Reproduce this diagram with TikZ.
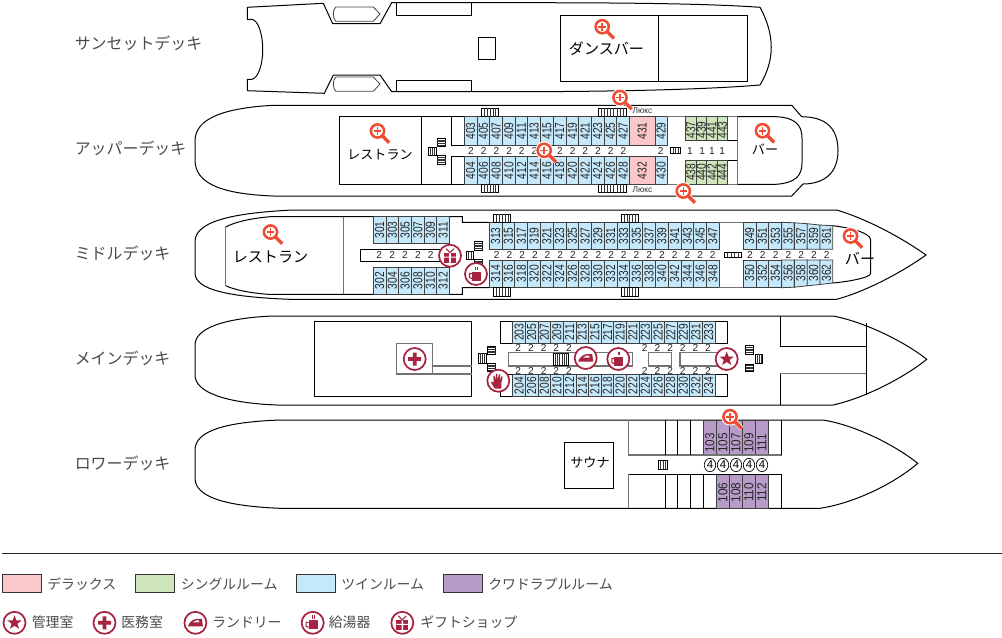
\documentclass[tikz,border=0pt]{standalone}
\usepackage{fontspec}
\usepackage{graphicx}
\usetikzlibrary{shapes.geometric}
\setmainfont{Liberation Sans}
\newfontfamily\jpfont{Noto Sans CJK JP}
\definecolor{pinkroom}{HTML}{FBC8C9}
\definecolor{greenroom}{HTML}{CFE6BD}
\definecolor{blueroom}{HTML}{C5E8FB}
\definecolor{purproom}{HTML}{B89CC8}
\definecolor{iconred}{HTML}{A6243F}
\definecolor{lensred}{HTML}{EE4C35}
\definecolor{greytext}{HTML}{4A4A4A}
\newcommand{\rn}[2][0.78]{\scalebox{#1}[1]{#2}}
\tikzset{
  wall/.style={draw=black,line width=0.75pt},
  softwall/.style={draw=black!55,line width=0.85pt},
  room/.style={draw=black!75,line width=0.6pt},
  roomnum/.style={font=\fontsize{9.8}{10}\selectfont,rotate=90,inner sep=0pt,text=black!85},
  bednum/.style={font=\fontsize{7.6}{8}\selectfont,inner sep=0pt,text=black!85},
  decklabel/.style={font=\jpfont\fontsize{11.95}{12}\selectfont,anchor=west,inner sep=0pt,text=greytext},
  placelabel/.style={font=\jpfont\fontsize{9.8}{11}\selectfont,inner sep=0pt},
  bigplacelabel/.style={font=\jpfont\fontsize{11.3}{12}\selectfont,inner sep=0pt},
  keylabel/.style={font=\jpfont\fontsize{10.4}{11}\selectfont,anchor=west,inner sep=0pt,text=greytext},
  keybox/.style={draw=black!80,line width=0.75pt},
  ring/.style={draw=iconred,fill=white,line width=1.3pt},
  pics/lens/.style={code={
    \draw[white,line width=3.4pt] (-1.5,-1.5) circle (6.6) (3.2,3.2) -- (10.2,10.2);
    \draw[lensred,line width=1.9pt,fill=white] (-1.5,-1.5) circle (6.6);
    \draw[lensred,line width=2.5pt] (3.6,3.6) -- (10.2,10.2);
    \draw[lensred,line width=1.2pt] (-5.3,-1.5) -- (2.3,-1.5) (-1.5,-5.3) -- (-1.5,2.3);
  }},
  pics/staricon/.style={code={
    \draw[ring] (0,0) circle (11);
    \fill[iconred] (0,-7.5) -- (1.9,-2.4) -- (7.2,-2.4) -- (3,0.9) -- (4.5,6) -- (0,3) -- (-4.5,6) -- (-3,0.9) -- (-7.2,-2.4) -- (-1.9,-2.4) -- cycle;
  }},
  pics/crossicon/.style={code={
    \draw[ring] (0,0) circle (11);
    \fill[iconred] (-1.9,-6.5) rectangle (1.9,6.5) (-6.5,-1.9) rectangle (6.5,1.9);
  }},
  pics/ironicon/.style={code={
    \draw[ring] (0,0) circle (11);
    \fill[iconred] (-7.5,3.5) .. controls (-6,-1) and (-2,-4) .. (2,-4) -- (6.5,-4) -- (7.5,3.5) -- cycle;
    \fill[white] (-2.5,-0.5) -- (1,-2.5) -- (3.5,-2.5) -- (3.8,-0.5) -- cycle;
  }},
  pics/cupicon/.style={code={
    \draw[ring] (0,0) circle (11);
    \fill[iconred] (-4,-2.5) rectangle (5,6.5);
    \draw[iconred,line width=0.8pt] (-4,-0.5) -- (-6.5,-0.5) -- (-6.5,3.5) -- (-4,4.5);
    \draw[iconred,line width=0.7pt] (-0.3,-7.5) -- (-0.3,-4) (1.3,-7.5) -- (1.3,-4);
  }},
  pics/gifticon/.style={code={
    \draw[ring] (0,0) circle (11);
    \fill[iconred] (-6,-2.5) rectangle (6,7);
    \fill[white] (-0.8,-2.5) rectangle (0.8,7) (-6,1) rectangle (6,2);
    \draw[iconred,line width=0.8pt] (0,-3) -- (-4,-7) (0,-3) -- (4,-7);
  }},
  pics/handicon/.style={code={
    \draw[ring] (0,0) circle (11);
    \fill[iconred] (-3.5,8) .. controls (-5,5) and (-8,2) .. (-7,1) .. controls (-6,0.5) and (-5,2) .. (-4.5,2) -- (-5,-4.5) -- (-3.8,-5) -- (-2.8,-0.5) -- (-2.3,-7) -- (-1,-7) -- (-0.7,-0.5) -- (0.6,-6.5) -- (2,-6) -- (1.2,-0.5) -- (3.4,-4.5) -- (4.4,-4) -- (3,2) -- (3,8) -- cycle;
  }}
}
\newcommand{\stairsv}[5]{% treads run upright
  \draw[line width=0.4pt,fill=white] (#1,#2) rectangle (#3,#4);
  \foreach \t in {1,...,#5} \draw[line width=0.4pt,black!80] ({#1+(#3-#1)*\t/(#5+1)},#2) -- ({#1+(#3-#1)*\t/(#5+1)},#4);
}
\newcommand{\stairsh}[5]{% treads run across
  \draw[line width=0.4pt,fill=white] (#1,#2) rectangle (#3,#4);
  \foreach \t in {1,...,#5} \draw[line width=0.4pt,black!80] (#1,{#2+(#4-#2)*\t/(#5+1)}) -- (#3,{#2+(#4-#2)*\t/(#5+1)});
}
\begin{document}
\begin{tikzpicture}[x=0.75pt,y=-0.75pt]
\useasboundingbox (0,0) rectangle (1002,637);
% sunset deck
\draw[wall] (247.3,7.3) -- (323.3,3.3) -- (332.7,23.7) -- (380,23.7) -- (391.7,2.7) -- (510,2.7) .. controls (600,2.7) and (700,3) .. (760,7.3) .. controls (775,35) and (775,60) .. (760,85) .. controls (700,90) and (600,91.7) .. (510,91.7) -- (391.7,91.7) -- (380,75) -- (333.3,75) -- (324.3,93.3) -- (247.3,90.7) -- (247.3,79.3) -- (252,79.3) .. controls (258,78) and (262.7,65) .. (262.7,50) .. controls (262.7,33) and (258,20.5) .. (252,19.3) -- (247.3,19.3) -- cycle;
\draw[room] (335.7,7) -- (373.3,7) -- (380,14) -- (373.3,21.3) -- (335.7,21.3) .. controls (332.5,18) and (332.5,10) .. (335.7,7);
\draw[room] (335.7,77) -- (373.3,77) -- (380,84) -- (373.3,91.3) -- (335.7,91.3) .. controls (332.5,88) and (332.5,80) .. (335.7,77);
\draw[wall] (396.3,2.7) rectangle (471.3,15.3);
\draw[wall] (396.3,80.3) rectangle (471.3,91.7);
\draw[wall] (478,37.3) rectangle (495.3,59.3);
\draw[wall] (560.7,15.3) rectangle (747.3,81.3);
\draw[wall] (658,15.3) -- (658,81.3);
\node[bigplacelabel] (dancebar) at (606.5,48.3) {ダンスバー};
\pic at (603.7,28.2) {lens};
% upper deck
\draw[wall] (273,105.3) -- (791.7,105.3) -- (801.7,116.7) .. controls (812,117) and (838,118) .. (838,150.5) .. controls (838,180) and (815,184) .. (803,184) -- (791.7,196) -- (273,196) .. controls (225,194) and (195,185) .. (195,160) -- (195,141) .. controls (195,118) and (225,108) .. (273,105.3);
\draw[wall] (339.3,116.7) rectangle (421.7,184.3);
\draw[wall] (421.7,116.7) -- (667.3,116.7) (421.7,184.3) -- (667.3,184.3);
\draw[wall] (451.7,116.7) rectangle (464.3,145.3);
\draw[wall] (451.7,156.7) rectangle (464.3,184.3);
\foreach \n [count=\i from 0] in {403,405,...,427} {
  \draw[room,fill=blueroom] ({464.3+12.7*\i},116.7) rectangle +(12.7,28.3);
  \node[roomnum] (c\n) at ({470.65+12.7*\i},131) {\rn{\n}};
}
\foreach \n [count=\i from 0] in {404,406,...,428} {
  \draw[room,fill=blueroom] ({464.3+12.7*\i},156.7) rectangle +(12.7,27.6);
  \node[roomnum] (c\n) at ({470.65+12.7*\i},170.5) {\rn{\n}};
  \node[bednum] (b\n) at ({471+12.7*\i},150.7) {2};
}
\draw[room,fill=pinkroom] (629.3,116.7) rectangle (655,145);
\draw[room,fill=pinkroom] (629.3,156.7) rectangle (655,184.3);
\draw[room,fill=blueroom] (655,116.7) rectangle (667.3,145);
\draw[room,fill=blueroom] (655,156.7) rectangle (667.3,184.3);
\node[roomnum] (c431) at (642.2,131) {\rn{431}};
\node[roomnum] (c432) at (642.2,170.5) {\rn{432}};
\node[roomnum] (c429) at (661.2,131) {\rn{429}};
\node[roomnum] (c430) at (661.2,170.5) {\rn{430}};
\node[bednum] (b430) at (660.7,150.7) {2};
\draw[softwall] (667.3,116.7) -- (737.7,116.7) (667.3,184.3) -- (737.7,184.3);
\foreach \n [count=\i from 0] in {437,439,441,443} {
  \draw[room,fill=greenroom] ({685.7+10.5*\i},116.7) rectangle +(10.5,23.3);
  \node[roomnum] (c\n) at ({690.95+10.5*\i},130) {\rn{\n}};
}
\foreach \n [count=\i from 0] in {438,440,442,444} {
  \draw[room,fill=greenroom] ({685.7+10.5*\i},160.7) rectangle +(10.5,23.6);
  \node[roomnum] (c\n) at ({690.95+10.5*\i},172.3) {\rn{\n}};
}
\foreach \x [count=\i] in {690,702.3,712,722.3} \node[bednum] (s\i) at (\x,150.7) {1};
\draw[wall] (727.7,140) -- (737.7,140) (727.7,160.7) -- (737.7,160.7);
\draw[softwall] (737.7,116.7) -- (737.7,184.3);
\draw[wall] (737.7,116.7) -- (776,116.7) .. controls (795,117.5) and (802,125) .. (802,138) -- (802,163) .. controls (802,176) and (795,183) .. (776,184.3) -- (737.7,184.3);
\stairsv{481.7}{108.3}{498.3}{116.7}{5}
\stairsv{481.7}{184.3}{498.3}{192.7}{5}
\stairsv{598.3}{108.3}{626}{116.7}{8}
\stairsv{598.3}{184.3}{626}{192.7}{8}
\stairsv{428.3}{147.7}{436}{155.7}{3}
\stairsh{437.3}{138.3}{445.7}{146.7}{4}
\stairsh{437.3}{155.7}{445.7}{164}{4}
\stairsv{670.7}{147.7}{680.7}{153.3}{3}
\node[inner sep=0pt,font=\fontsize{6.3}{7}\selectfont,text=black!80] (luxtop) at (642.5,111) {Люкс};
\node[inner sep=0pt,font=\fontsize{6.3}{7}\selectfont,text=black!80] (luxbot) at (642.5,190) {Люкс};
\node[placelabel] (restupper) at (380,154.3) {レストラン};
\node[placelabel] (barupper) at (765,149) {バー};
\pic at (379,132.5) {lens};
\pic at (764,132.2) {lens};
\pic at (621.5,99) {lens};
\pic at (545.7,151.8) {lens};
\pic at (684.8,192.5) {lens};
% middle deck
\draw[wall] (293,210) -- (836.7,210) .. controls (870,220) and (905,240) .. (926,255) .. controls (905,270) and (870,290) .. (836.7,299.3) -- (290,299.3) .. controls (230,297) and (195,290) .. (195,273) -- (195,241.7) .. controls (195,222) and (230,213) .. (293,210);
\draw[wall] (225.7,227) .. controls (235,222) and (250,218.5) .. (270,216.7) -- (462.3,216.7) -- (462.3,222.3) -- (489.3,222.3);
\draw[wall] (225.7,285.7) .. controls (235,290) and (250,293) .. (268.3,294.3) -- (462.3,294.3) -- (462.3,287.7) -- (489.3,287.7);
\draw[softwall] (225.7,227) -- (225.7,285.7);
\draw[softwall] (343.7,216.7) -- (343.7,294.3);
\draw[wall] (445,249.3) -- (360,249.3) -- (360,261) -- (445,261);
\foreach \n [count=\i from 0] in {301,303,...,311} {
  \draw[room,fill=blueroom] ({373.3+12.7*\i},216.7) rectangle +(12.7,26.6);
  \node[roomnum] (c\n) at ({379.65+12.7*\i},230) {\rn{\n}};
}
\foreach \n [count=\i from 0] in {302,304,...,312} {
  \draw[room,fill=blueroom] ({373.3+12.7*\i},267.3) rectangle +(12.7,27);
  \node[roomnum] (c\n) at ({379.65+12.7*\i},280.8) {\rn{\n}};
}
\foreach \i in {0,...,4} \node[bednum] (m\i) at ({379.3+12.85*\i},255) {2};
\foreach \n [count=\i from 0] in {313,315,...,347} {
  \draw[room,fill=blueroom] ({489.3+12.78*\i},222.3) rectangle +(12.78,27);
  \node[roomnum] (c\n) at ({495.7+12.78*\i},236) {\rn{\n}};
}
\foreach \n [count=\i from 0] in {314,316,...,348} {
  \draw[room,fill=blueroom] ({489.3+12.78*\i},260) rectangle +(12.78,27.7);
  \node[roomnum] (c\n) at ({495.7+12.78*\i},273.8) {\rn{\n}};
}
\foreach \i in {0,...,17} \node[bednum] (p\i) at ({496.7+12.71*\i},254.6) {2};
\draw[softwall] (719.3,222.3) -- (743.3,222.3) (719.3,287.7) -- (743.3,287.7);
\foreach \n/\ya/\yb [count=\i from 0] in {349/222.3/222.3,351/222.3/222.3,353/222.3/222.3,355/222.3/222.8,357/222.8/223.7,359/223.7/225,361/225/225.7} {
  \draw[room,fill=blueroom] ({743.3+12.77*\i},\ya) -- ({743.3+12.77*(\i+1)},\yb) -- ({743.3+12.77*(\i+1)},249.3) -- ({743.3+12.77*\i},249.3) -- cycle;
  \node[roomnum] (c\n) at ({749.7+12.77*\i},236) {\rn{\n}};
}
\foreach \n/\ya/\yb [count=\i from 0] in {350/287.7/287.7,352/287.7/287.7,354/287.7/287.7,356/287.7/287.2,358/287.2/285.8,360/285.8/284.5,362/284.5/283} {
  \draw[room,fill=blueroom] ({743.3+12.77*\i},\ya) -- ({743.3+12.77*(\i+1)},\yb) -- ({743.3+12.77*(\i+1)},260) -- ({743.3+12.77*\i},260) -- cycle;
  \node[roomnum] (c\n) at ({749.7+12.77*\i},273) {\rn{\n}};
}
\foreach \i in {0,...,6} \node[bednum] (q\i) at ({750+12.78*\i},254.6) {2};
\draw[wall] (832.7,225.7) .. controls (845,227) and (870.7,232) .. (870.7,240) -- (870.7,273.3) .. controls (870.7,278) and (845,282) .. (832.7,283);
\stairsv{493.3}{214}{510.7}{222.3}{5}
\stairsv{493.3}{287.7}{510.7}{296.3}{5}
\stairsv{621}{214}{638.3}{222.3}{5}
\stairsv{621}{287.7}{638.3}{296.3}{5}
\stairsv{466}{251.7}{473.3}{259}{2}
\stairsh{474.3}{241.7}{482.7}{250}{4}
\stairsh{474.3}{259.3}{482.7}{267.7}{4}
\stairsv{724}{252.7}{741.7}{257.3}{4}
\node[bigplacelabel] (restmiddle) at (270.5,256.5) {レストラン};
\node[bigplacelabel] (barmiddle) at (860,258.3) {バー};
\pic at (272,233.5) {lens};
\pic at (852,237.5) {lens};
\pic at (450,255.7) {gifticon};
\pic at (476,274) {cupicon};
% main deck
\draw[wall] (273,316) -- (833,316) .. controls (865,322) and (905,342) .. (926.7,359.3) .. controls (905,377) and (865,398) .. (833,405) -- (277,405) .. controls (225,403) and (195,392) .. (195,375) -- (195,345) .. controls (195,328) and (225,318) .. (273,316);
\draw[wall] (314.3,321.7) rectangle (471.7,396);
\draw[softwall] (396.7,343.3) rectangle (432.7,374);
\draw[softwall] (432.7,366) -- (471.7,366) (432.7,374) -- (471.7,374);
\draw[wall] (500,321.7) rectangle (727.7,343.3);
\draw[wall] (500,374) rectangle (727.7,396);
\foreach \n [count=\i from 0] in {203,205,...,233} {
  \draw[room,fill=blueroom] ({512.7+12.64*\i},321.7) rectangle +(12.64,21.6);
  \node[roomnum] (c\n) at ({519+12.64*\i},332.3) {\rn{\n}};
}
\foreach \n [count=\i from 0] in {204,206,...,234} {
  \draw[room,fill=blueroom] ({512.7+12.64*\i},374) rectangle +(12.64,22);
  \node[roomnum] (c\n) at ({519+12.64*\i},385.5) {\rn{\n}};
}
\foreach \i in {0,...,4,10,11,...,15} {
  \node[bednum] (u\i) at ({518.3+12.65*\i},348.3) {2};
  \node[bednum] (v\i) at ({518.3+12.65*\i},370.7) {2};
}
\draw[softwall] (508.3,352.7) rectangle (632.3,366);
\draw[softwall] (648.3,352.7) rectangle (671.7,366);
\draw[softwall] (680,352.7) rectangle (718,366);
\stairsv{553.3}{353.3}{568.3}{365}{6}
\stairsv{478.3}{353.3}{486}{363.3}{3}
\stairsh{487.7}{346}{495.7}{354}{4}
\stairsh{487.7}{363.3}{495.7}{371.7}{4}
\stairsh{745.7}{345.7}{753.3}{354}{4}
\stairsh{745.7}{364}{753.3}{371.7}{4}
\stairsv{755}{354.3}{762.7}{363.3}{3}
\draw[wall] (780.3,316) -- (780.3,346) -- (865.7,346);
\draw[wall] (780.3,405) -- (780.3,373.3);
\draw[softwall] (780.3,373.3) -- (866.7,373.3);
\draw[wall] (866.7,323.3) -- (866.7,395);
\pic at (414.7,359) {crossicon};
\pic at (585.7,358) {ironicon};
\pic at (618.3,359) {cupicon};
\pic at (726.7,359) {staricon};
\pic at (498.3,380.7) {handicon};
% lower deck
\draw[wall] (280,420) -- (823,420) .. controls (855,425) and (895,445) .. (917.7,463.3) .. controls (895,483) and (855,503) .. (820,508.3) -- (280,508.3) .. controls (225,506) and (195,497) .. (195,478) -- (195,450) .. controls (195,431) and (225,422) .. (280,420);
\draw[wall] (564.3,442.3) rectangle (613.3,488.3);
\node[placelabel] (sauna) at (590,462.3) {サウナ};
\foreach \x in {703.3,716.3,729.3,742.3,755.3} \draw[room,fill=purproom] (\x,420) rectangle +(13,35);
\foreach \x in {716.3,729.3,742.3,755.3} \draw[room,fill=purproom] (\x,474.3) rectangle +(13,34);
\foreach \n [count=\i from 0] in {103,105,107,109,111} \node[roomnum] (c\n) at ({709.8+13*\i},443) {\rn[0.9]{\n}};
\foreach \n [count=\i from 0] in {106,108,110,112} \node[roomnum] (c\n) at ({722.8+13*\i},492.5) {\rn[0.9]{\n}};
\draw[softwall] (628.7,420) -- (628.7,455) -- (781.7,455);
\draw[softwall] (628.7,508.3) -- (628.7,474.3);
\draw[wall] (628.7,474.3) -- (781.7,474.3);
\foreach \x in {665,677.7,690.3} \draw[wall] (\x,420) -- (\x,455) (\x,474.3) -- (\x,508.3);
\draw[wall] (703.3,474.3) -- (703.3,508.3);
\draw[wall] (781.7,420) -- (781.7,455) (781.7,474.3) -- (781.7,508.3);
\stairsv{658.3}{460.7}{667.7}{469}{3}
\foreach \x [count=\i] in {710,723,736,749,762}
  \node[draw,ellipse,line width=0.5pt,inner sep=0pt,minimum width=8.6pt,minimum height=10pt,font=\fontsize{8.6}{9}\selectfont] (four\i) at (\x,465) {4};
\pic at (731.5,418.2) {lens};
% deck names
\node[decklabel] (dsunset) at (74.5,43) {サンセットデッキ};
\node[decklabel] (dupper) at (74.5,148) {アッパーデッキ};
\node[decklabel] (dmiddle) at (74.5,253) {ミドルデッキ};
\node[decklabel] (dmain) at (74.5,358) {メインデッキ};
\node[decklabel] (dlower) at (74.5,463) {ロワーデッキ};
% key
\draw[line width=0.75pt,draw=black!85] (2,553.5) -- (1002,553.5);
\draw[keybox,fill=pinkroom] (2.4,574.7) rectangle (41.6,592.3);
\draw[keybox,fill=greenroom] (135.2,574.7) rectangle (174.8,592.3);
\draw[keybox,fill=blueroom] (296.5,574.7) rectangle (335.7,592.3);
\draw[keybox,fill=purproom] (443.5,574.7) rectangle (482.8,592.3);
\node[keylabel] (kdeluxe) at (47,584) {デラックス};
\node[keylabel] (ksingle) at (180.5,584) {シングルルーム};
\node[keylabel] (ktwin) at (341,584) {ツインルーム};
\node[keylabel] (kquad) at (488,584) {クワドラプルルーム};
\pic at (14.5,622.8) {staricon};
\pic at (104.5,622.8) {crossicon};
\pic at (195.4,622.8) {ironicon};
\pic at (312.7,622.8) {cupicon};
\pic at (402.3,622.8) {gifticon};
\node[keylabel] (kadmin) at (31.5,622) {管理室};
\node[keylabel] (kmedic) at (121,622) {医務室};
\node[keylabel] (klaundry) at (212,622) {ランドリー};
\node[keylabel] (kwater) at (328.5,622) {給湯器};
\node[keylabel] (kshop) at (420,622) {ギフトショップ};
\end{tikzpicture}
\end{document}
